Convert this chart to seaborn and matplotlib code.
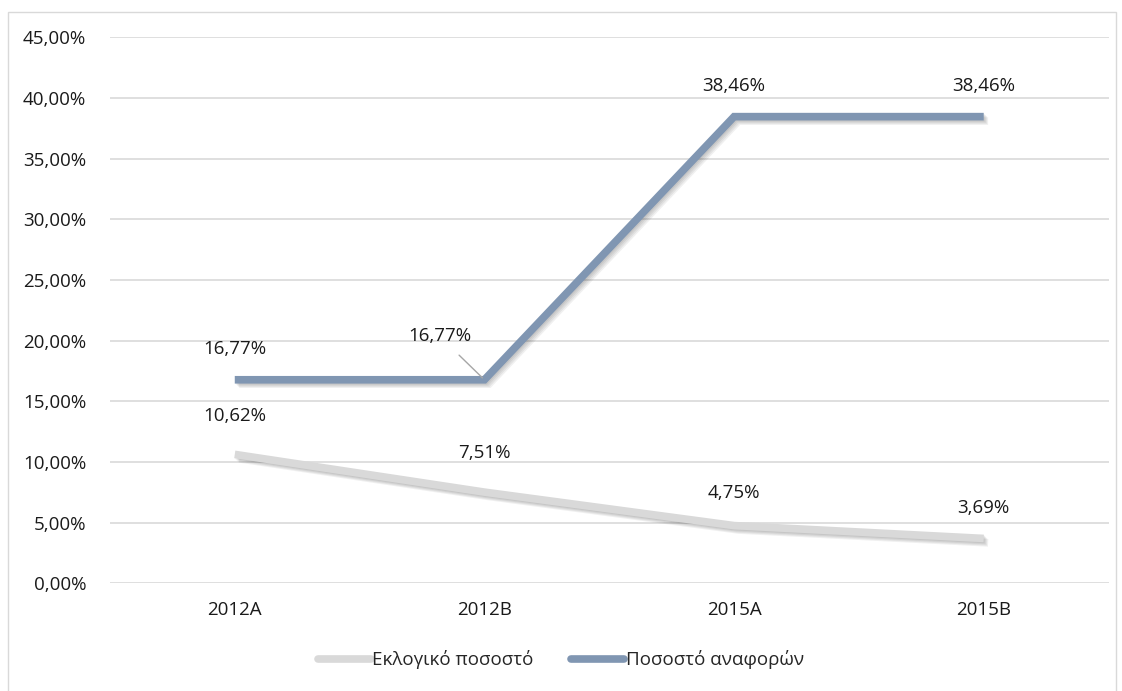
import numpy as np
import pandas as pd
import matplotlib
matplotlib.use('Agg')
import matplotlib.pyplot as plt
import matplotlib.patheffects as pe
import matplotlib.patches as mpatches
from matplotlib.ticker import FuncFormatter, MultipleLocator
import seaborn as sns

periods = ['2012A', '2012B', '2015A', '2015B']
eklogiko = [10.62, 7.51, 4.75, 3.69]
anafores = [16.77, 16.77, 38.46, 38.46]
series_names = ['Εκλογικό ποσοστό', 'Ποσοστό αναφορών']
colors = ['#d9d9d9', '#8096b2']

df = pd.DataFrame({
    'period': periods * 2,
    'value': eklogiko + anafores,
    'series': [series_names[0]] * 4 + [series_names[1]] * 4,
})

sns.set_style('white')
plt.rcParams['font.family'] = ['Open Sans', 'DejaVu Sans']
FS = 13.5

fig = plt.figure(figsize=(11.22, 6.91), dpi=100)
ax = fig.add_axes([0.098, 0.156, 0.89, 0.79])

sns.lineplot(data=df, x='period', y='value', hue='series', hue_order=series_names,
             palette=colors, linewidth=5.5, ax=ax, legend=False, sort=False)

# soft drop shadow built from a few faint offset copies
shadow = [pe.SimpleLineShadow(offset=(o, -o), shadow_color='black', alpha=0.06)
          for o in (0.8, 1.6, 2.4, 3.2)] + [pe.Normal()]
for line in ax.get_lines():
    line.set_path_effects(shadow)
    line.set_solid_capstyle('butt')
    line.set_solid_joinstyle('miter')

ax.set_xlim(-0.5, 3.5)
ax.set_ylim(0, 45)
ax.yaxis.set_major_locator(MultipleLocator(5))
ax.yaxis.set_major_formatter(FuncFormatter(lambda v, p: f'{v:.2f}%'.replace('.', ',')))
ax.grid(axis='y', color='#d9d9d9', linewidth=1.2)
ax.set_axisbelow(True)
for s in ax.spines.values():
    s.set_visible(False)
ax.set_xlabel('')
ax.set_ylabel('')
ax.tick_params(axis='both', length=0, labelsize=FS, colors='#1a1a1a')
ax.tick_params(axis='y', pad=17)
ax.tick_params(axis='x', pad=13)

def fmt(v):
    return f'{v:.2f}%'.replace('.', ',')

# labels for Ποσοστό αναφορών
for i, v in enumerate(anafores):
    if i == 1:
        ax.annotate(fmt(v), xy=(i, v), xytext=(i - 0.18, v + 3.6), ha='center', va='center',
                    fontsize=FS, color='#1a1a1a',
                    arrowprops=dict(arrowstyle='-', color='#a6a6a6', lw=1,
                                    shrinkA=7, shrinkB=2))
    else:
        ax.text(i, v + 2.5, fmt(v), ha='center', va='center',
                fontsize=FS, color='#1a1a1a')

# labels for Εκλογικό ποσοστό
gray_offsets = [3.2, 3.2, 2.7, 2.5]
for i, v in enumerate(eklogiko):
    ax.text(i, v + gray_offsets[i], fmt(v), ha='center', va='center',
            fontsize=FS, color='#1a1a1a')

handles = [plt.Line2D([], [], color=c, lw=5.5, solid_capstyle='round') for c in colors]
fig.legend(handles, series_names, loc='center', bbox_to_anchor=(0.5, 0.045), ncol=2,
           frameon=False, fontsize=FS, handlelength=2.8, handletextpad=0.1,
           columnspacing=2.0)

border = mpatches.Rectangle((0.007, -0.01), 0.988, 0.993, transform=fig.transFigure,
                            fill=False, edgecolor='#d9d9d9', linewidth=1)
fig.patches.append(border)

fig.savefig('out.png', dpi=100, facecolor='white')
